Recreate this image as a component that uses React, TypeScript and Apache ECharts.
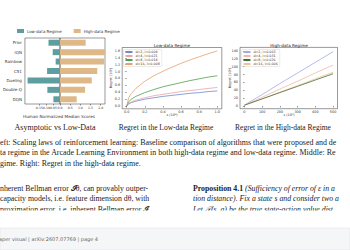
import React, { useEffect, useRef } from "react";
import * as echarts from "echarts";

// Left panel: human normalized median scores
const algorithms = ["Prior", "IQN", "Rainbow", "C51", "Dueling", "Double-Q", "DQN"];
const lowDataScores = [-0.082, -0.052, -0.031, -0.092, -0.231, -0.09, -0.047];
const highDataScores = [1.26, 2.21, 2.16, 1.83, 1.56, 1.23, 0.82];
const lowTicks = [-0.2, -0.15, -0.1, -0.05, 0];
const highTicks = [0.5, 1.0, 1.5, 2.0];

// Middle panel: regret in low-data regime
const lowX = [0, 0.02, 0.05, 0.1, 0.2, 0.3, 0.4, 0.5, 0.6, 0.7, 0.8, 0.9, 1.0];
const lowNames = ["d=2, l=0.004", "d=4, l=0.021", "d=8, l=0.014", "d=16, l=0.008"];
const lowBlue = [0, 0.06, 0.1, 0.14, 0.2, 0.24, 0.28, 0.31, 0.34, 0.37, 0.39, 0.42, 0.44];
const lowPink = [0, 0.08, 0.12, 0.17, 0.24, 0.3, 0.34, 0.38, 0.42, 0.45, 0.48, 0.51, 0.54];
const lowGreen = [0, 0.12, 0.2, 0.28, 0.39, 0.48, 0.56, 0.62, 0.68, 0.74, 0.79, 0.84, 0.88];
const lowOrange = [0, 0.23, 0.36, 0.51, 0.72, 0.88, 1.01, 1.13, 1.24, 1.34, 1.43, 1.52, 1.6];
const lowXTicks = [0, 0.2, 0.4, 0.6, 0.8, 1.0];
const lowYTicks = [0, 0.2, 0.4, 0.6, 0.8, 1.0, 1.2, 1.4, 1.6];

// Right panel: regret in high-data regime
const highX = [0, 100, 200, 300, 400, 500];
const highNames = ["d=2, l=0.063", "d=4, l=0.031", "d=8, l=0.026", "d=16, l=0.006"];
const highBlue = [2, 29, 57, 84, 111, 138];
const highPink = [2, 22, 43, 63, 84, 104];
const highGreen = [2, 18, 34, 50, 66, 82];
const highTan = [2, 18, 35, 52, 69, 86];
const highXTicks = [0, 100, 200, 300, 400, 500];
const highYTicks = [0, 20, 40, 60, 80, 100, 120, 140];

const SANS = "DejaVu Sans";
const SERIF = "Liberation Serif";

function pairs(xs: number[], ys: number[]) {
  return xs.map((x, i) => [x, ys[i]]);
}

export default function App() {
  const ref = useRef<HTMLDivElement>(null);
  useEffect(() => {
    if (!ref.current) return;
    const chart = echarts.init(ref.current, null, { renderer: "svg" });
    const axisLine = { show: false };
    const tick = { show: true, length: 1.5, lineStyle: { color: "#333", width: 0.5 } };
    const lbl = (extra: any) => ({ fontSize: 3.8, color: "#333", fontFamily: SANS, margin: 2, ...extra });
    const gridBase = { show: true, borderColor: "#333", borderWidth: 0.5, containLabel: false, backgroundColor: "transparent" };
    const lineSeries = (name: string, data: number[][], color: string, xi: number) => ({
      type: "line",
      name,
      data,
      xAxisIndex: xi,
      yAxisIndex: xi,
      symbol: "none",
      smooth: false,
      lineStyle: { color, width: 0.8 },
      itemStyle: { color },
    });
    const serifText = (x: number, y: number, text: string, size: number, align = "left", extra: any = {}) => ({
      type: "text",
      x,
      y,
      style: { text, fontFamily: SERIF, fontSize: size, fill: "#222", textAlign: align, textVerticalAlign: "middle", ...extra },
    });
    chart.setOption({
      animation: false,
      backgroundColor: "#ffffff",
      grid: [
        { ...gridBase, left: 12.5, top: 38, width: 47.5, height: 66 },
        { ...gridBase, left: 60, top: 38, width: 45, height: 66 },
        { ...gridBase, left: 122.2, top: 47.5, width: 99.6, height: 61.3 },
        { ...gridBase, left: 240, top: 47.4, width: 97.5, height: 61.3 },
      ],
      xAxis: [
        {
          type: "value", gridIndex: 0, min: -0.25, max: 0, splitLine: { show: false }, axisLine,
          axisTick: { ...tick, customValues: lowTicks },
          axisLabel: lbl({ fontSize: 3.1, customValues: lowTicks, formatter: (v: number) => (v === 0 ? "0.0" : v.toFixed(2)) }),
        },
        {
          type: "value", gridIndex: 1, min: 0, max: 2.21, splitLine: { show: false }, axisLine,
          axisTick: { ...tick, customValues: highTicks },
          axisLabel: lbl({ fontSize: 3.1, customValues: highTicks, formatter: (v: number) => v.toFixed(1) }),
        },
        {
          type: "value", gridIndex: 2, min: -0.05, max: 1.05, splitLine: { show: false }, axisLine,
          axisTick: { ...tick, customValues: lowXTicks },
          axisLabel: lbl({ fontSize: 3.4, customValues: lowXTicks, formatter: (v: number) => v.toFixed(1) }),
        },
        {
          type: "value", gridIndex: 3, min: -25, max: 525, splitLine: { show: false }, axisLine,
          axisTick: { ...tick, customValues: highXTicks },
          axisLabel: lbl({ fontSize: 3.4, customValues: highXTicks, formatter: (v: number) => String(v) }),
        },
      ],
      yAxis: [
        {
          type: "category", gridIndex: 0, data: algorithms, inverse: true, axisLine,
          axisTick: { ...tick, alignWithLabel: true },
          axisLabel: lbl({ fontSize: 4, margin: 3 }),
        },
        {
          type: "category", gridIndex: 1, data: algorithms, inverse: true, axisLine,
          axisTick: { show: false }, axisLabel: { show: false },
        },
        {
          type: "value", gridIndex: 2, min: -0.08, max: 1.7, splitLine: { show: false }, axisLine,
          axisTick: { ...tick, customValues: lowYTicks },
          axisLabel: lbl({ fontSize: 3.4, customValues: lowYTicks, formatter: (v: number) => v.toFixed(1) }),
        },
        {
          type: "value", gridIndex: 3, min: -7, max: 149, splitLine: { show: false }, axisLine,
          axisTick: { ...tick, customValues: highYTicks },
          axisLabel: lbl({ fontSize: 3.4, customValues: highYTicks, formatter: (v: number) => String(v) }),
        },
      ],
      legend: [
        {
          data: ["Low-data Regime", "High-data Regime"], left: 17, top: 29, itemWidth: 7, itemHeight: 4, itemGap: 12,
          icon: "rect", padding: 0, textStyle: { fontSize: 4, fontFamily: SANS, color: "#333", padding: [0, 0, 0, -2] },
        },
        {
          data: lowNames, orient: "vertical", left: 123.5, top: 49.5, itemWidth: 7, itemHeight: 3, itemGap: 1,
          padding: [1, 2, 1, 1], borderColor: "#ccc", borderWidth: 0.4, borderRadius: 1,
          textStyle: { fontSize: 3.3, fontFamily: SANS, color: "#333", padding: [0, 0, 0, -2] },
        },
        {
          data: highNames, orient: "vertical", left: 241.5, top: 49.5, itemWidth: 7, itemHeight: 3, itemGap: 1,
          padding: [1, 2, 1, 1], borderColor: "#ccc", borderWidth: 0.4, borderRadius: 1,
          textStyle: { fontSize: 3.3, fontFamily: SANS, color: "#333", padding: [0, 0, 0, -2] },
        },
      ],
      series: [
        { type: "bar", name: "Low-data Regime", data: lowDataScores, xAxisIndex: 0, yAxisIndex: 0, barWidth: 6, itemStyle: { color: "#5f9ea0" } },
        { type: "bar", name: "High-data Regime", data: highDataScores, xAxisIndex: 1, yAxisIndex: 1, barWidth: 6, itemStyle: { color: "#deb887" } },
        lineSeries(lowNames[0], pairs(lowX, lowBlue), "#7189cc", 2),
        lineSeries(lowNames[1], pairs(lowX, lowPink), "#e9a3a8", 2),
        lineSeries(lowNames[2], pairs(lowX, lowGreen), "#4f9e4f", 2),
        lineSeries(lowNames[3], pairs(lowX, lowOrange), "#e8a070", 2),
        lineSeries(highNames[0], pairs(highX, highBlue), "#a3aae6", 3),
        lineSeries(highNames[1], pairs(highX, highPink), "#f2b8aa", 3),
        lineSeries(highNames[3], pairs(highX, highTan), "#e8c895", 3),
        lineSeries(highNames[2], pairs(highX, highGreen), "#4d6b3c", 3),
      ],
      graphic: [
        // axis titles & subplot titles
        { type: "text", x: 59, y: 116, style: { text: "Human Normalized Median Scores", fontFamily: SANS, fontSize: 4.2, fill: "#333", textAlign: "center", textVerticalAlign: "middle" } },
        { type: "text", x: 172, y: 45, style: { text: "Low-data Regime", fontFamily: SANS, fontSize: 4.2, fill: "#222", textAlign: "center", textVerticalAlign: "middle" } },
        { type: "text", x: 289, y: 45, style: { text: "High-data Regime", fontFamily: SANS, fontSize: 4.2, fill: "#222", textAlign: "center", textVerticalAlign: "middle" } },
        { type: "text", x: 172, y: 114.5, style: { text: "ε (10⁶)", fontFamily: SANS, fontSize: 3.4, fill: "#333", textAlign: "center", textVerticalAlign: "middle" } },
        { type: "text", x: 289, y: 114.5, style: { text: "ε (10³)", fontFamily: SANS, fontSize: 3.4, fill: "#333", textAlign: "center", textVerticalAlign: "middle" } },
        { type: "text", x: 111, y: 78, rotation: Math.PI / 2, style: { text: "Regret (10²)", fontFamily: SANS, fontSize: 3.4, fill: "#333", textAlign: "center", textVerticalAlign: "middle" } },
        { type: "text", x: 230, y: 78, rotation: Math.PI / 2, style: { text: "Regret (10⁵)", fontFamily: SANS, fontSize: 3.4, fill: "#333", textAlign: "center", textVerticalAlign: "middle" } },
        // panel captions
        serifText(55, 127, "Asymptotic vs Low-Data", 8, "center"),
        serifText(166, 127, "Regret in the Low-data Regime", 7.5, "center"),
        serifText(283, 127, "Regret in the High-data Regime", 7.5, "center"),
        // figure caption
        serifText(0, 142, "eft: Scaling laws of reinforcement learning: Baseline comparison of algorithms that were proposed and de", 7.95),
        serifText(0, 152.5, "ta regime in the Arcade Learning Environment in both high-data regime and low-data regime. Middle: Re", 7.95),
        serifText(0, 163, "gime. Right: Regret in the high-data regime.", 7.95),
        // body text, left column
        serifText(0, 188, "nherent Bellman error 𝓘θ, can provably outper-", 7.8),
        serifText(0, 198.5, "capacity models, i.e. feature dimension dθ, with", 7.8),
        serifText(0, 209, "proximation error, i.e. inherent Bellman error 𝓘", 7.8),
        // body text, right column
        {
          type: "text", x: 193, y: 188,
          style: {
            text: "{b|Proposition 4.1} {i|(Sufficiency of error of ε in a}",
            fontFamily: SERIF, fontSize: 7.8, fill: "#222", textVerticalAlign: "middle",
            rich: { b: { fontWeight: "bold", fontFamily: SERIF, fontSize: 7.8 }, i: { fontStyle: "italic", fontFamily: SERIF, fontSize: 7.8 } },
          },
        },
        serifText(193, 198.5, "tion distance). Fix a state s and consider two a", 7.8, "left", { fontStyle: "italic" }),
        serifText(193, 209, "Let 𝒯(s, a) be the true state-action value dist", 7.8, "left", { fontStyle: "italic" }),
        // clip the partial last line
        { type: "rect", shape: { x: 0, y: 210.5, width: 350, height: 18 }, style: { fill: "#ffffff" } },
        // footer band
        { type: "rect", shape: { x: 0, y: 228, width: 350, height: 22 }, style: { fill: "#f5f6f8", stroke: "#e2e4e8", lineWidth: 0.6 } },
        { type: "text", x: -1, y: 239, style: { text: "aper visual | arXiv:2607.07769 | page 4", fontFamily: SANS, fontSize: 5, fill: "#666", textVerticalAlign: "middle" } },
      ],
    });
    return () => chart.dispose();
  }, []);
  return <div ref={ref} style={{ position: "absolute", left: 0, top: 0, width: 350, height: 250 }} />;
}
